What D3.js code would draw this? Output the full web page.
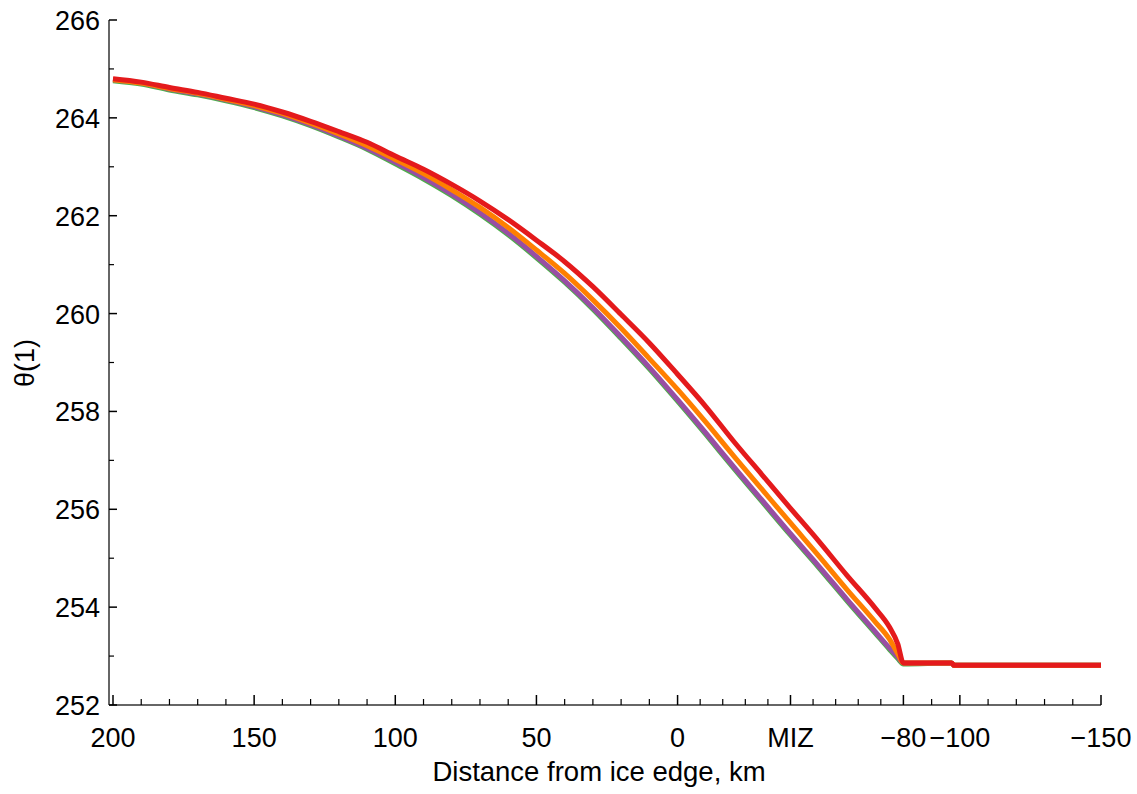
<!DOCTYPE html>
<html>
<head>
<meta charset="utf-8">
<script src="https://cdn.jsdelivr.net/npm/d3@7"></script>
<style>
  body { margin: 0; background: #fff; }
  svg { display: block; }
  text { font-family: "Liberation Sans", Arial, sans-serif; fill: #000; }
</style>
</head>
<body>
<div id="chart"></div>
<script>
// distance from ice edge, km (positive = open water side)
var distance = [200, 190, 180, 170, 160, 150, 140, 130, 120, 110, 100, 90, 80, 70, 60, 50, 40, 30, 20, 10, 0,
                -10, -20, -30, -40, -50, -60, -70, -75, -78, -80, -97, -98, -150];

var thetaRed    = [264.80, 264.73, 264.62, 264.52, 264.40, 264.28, 264.12, 263.93, 263.72, 263.50, 263.22, 262.95, 262.64, 262.30, 261.92, 261.50, 261.06, 260.55, 259.98, 259.40, 258.76,
                   258.10, 257.38, 256.70, 256.02, 255.35, 254.65, 253.98, 253.60, 253.25, 252.86, 252.86, 252.81, 252.81];
var thetaOrange = [264.78, 264.71, 264.60, 264.50, 264.38, 264.25, 264.09, 263.89, 263.67, 263.43, 263.15, 262.86, 262.53, 262.17, 261.76, 261.30, 260.82, 260.28, 259.70, 259.08, 258.45,
                   257.78, 257.08, 256.40, 255.72, 255.05, 254.36, 253.70, 253.35, 253.05, 252.86, 252.86, 252.81, 252.81];
var thetaPurple = [264.78, 264.71, 264.59, 264.49, 264.37, 264.23, 264.06, 263.86, 263.63, 263.38, 263.09, 262.78, 262.44, 262.06, 261.64, 261.17, 260.67, 260.12, 259.52, 258.90, 258.24,
                   257.56, 256.86, 256.18, 255.50, 254.84, 254.16, 253.50, 253.17, 252.98, 252.86, 252.86, 252.81, 252.81];
var thetaGreen  = [264.76, 264.69, 264.57, 264.47, 264.35, 264.21, 264.04, 263.84, 263.61, 263.36, 263.06, 262.75, 262.41, 262.03, 261.61, 261.14, 260.64, 260.09, 259.49, 258.87, 258.21,
                   257.53, 256.83, 256.15, 255.47, 254.81, 254.13, 253.47, 253.14, 252.95, 252.84, 252.86, 252.81, 252.81];

var xMajorTicks  = [200, 150, 100, 50, 0, -40, -80, -100, -150];
var xMajorLabels = ["200", "150", "100", "50", "0", "MIZ", "\u221280", "\u2212100", "\u2212150"];
var xMinorTicks  = [190, 180, 170, 160, 140, 130, 120, 110, 90, 80, 70, 60, 40, 30, 20, 10,
                    -8, -16, -24, -32, -48, -56, -64, -72, -90, -110, -120, -130, -140];
var yMajorTicks  = [252, 254, 256, 258, 260, 262, 264, 266];
var yMinorTicks  = [253, 255, 257, 259, 261, 263, 265];

var series = [
  {name: "green",  values: thetaGreen,  color: "#4DAF4A"},
  {name: "purple", values: thetaPurple, color: "#984EA3"},
  {name: "orange", values: thetaOrange, color: "#FF7F00"},
  {name: "red",    values: thetaRed,    color: "#E41A1C"}
];

var width = 1137, height = 794;
var svg = d3.select("#chart").append("svg").attr("width", width).attr("height", height);

var x = d3.scaleLinear().domain([200, -150]).range([113, 1101]);
var y = d3.scaleLinear().domain([252, 266]).range([705, 20]);
var axisX = 109;

var line = d3.line()
    .x(function(d){ return x(d[0]); })
    .y(function(d){ return y(d[1]); })
    .curve(d3.curveMonotoneX);

series.forEach(function(s){
    var pts = distance.map(function(dv, i){ return [dv, s.values[i]]; });
    svg.append("path")
        .datum(pts)
        .attr("d", line)
        .attr("fill", "none")
        .attr("stroke", s.color)
        .attr("stroke-width", 5)
        .attr("stroke-linejoin", "round");
});

// axes lines
svg.append("line").attr("x1", axisX).attr("x2", x(-150)).attr("y1", y(252)).attr("y2", y(252))
    .attr("stroke", "#333").attr("stroke-width", 1.5);
svg.append("line").attr("x1", axisX).attr("x2", axisX).attr("y1", y(252)).attr("y2", y(266))
    .attr("stroke", "#333").attr("stroke-width", 1.5);

// x ticks
svg.selectAll(".xmaj").data(xMajorTicks).enter().append("line")
    .attr("x1", function(d){ return x(d); }).attr("x2", function(d){ return x(d); })
    .attr("y1", y(252)).attr("y2", y(252) - 10)
    .attr("stroke", "#000").attr("stroke-width", 1.5);
svg.selectAll(".xmin").data(xMinorTicks).enter().append("line")
    .attr("x1", function(d){ return x(d); }).attr("x2", function(d){ return x(d); })
    .attr("y1", y(252)).attr("y2", y(252) - 6)
    .attr("stroke", "#000").attr("stroke-width", 1.2);
svg.selectAll(".xlab").data(xMajorTicks).enter().append("text")
    .attr("x", function(d){ return x(d); })
    .attr("y", 747)
    .attr("text-anchor", "middle")
    .style("font-size", "27px")
    .text(function(d, i){ return xMajorLabels[i]; });

// y ticks
svg.selectAll(".ymaj").data(yMajorTicks).enter().append("line")
    .attr("x1", axisX).attr("x2", axisX + 8)
    .attr("y1", function(d){ return y(d); }).attr("y2", function(d){ return y(d); })
    .attr("stroke", "#000").attr("stroke-width", 1.5);
svg.selectAll(".ymin").data(yMinorTicks).enter().append("line")
    .attr("x1", axisX).attr("x2", axisX + 5)
    .attr("y1", function(d){ return y(d); }).attr("y2", function(d){ return y(d); })
    .attr("stroke", "#000").attr("stroke-width", 1.2);
svg.selectAll(".ylab").data(yMajorTicks).enter().append("text")
    .attr("x", 100)
    .attr("y", function(d){ return y(d) + 10; })
    .attr("text-anchor", "end")
    .style("font-size", "27px")
    .text(function(d){ return d; });

// axis titles
svg.append("text")
    .attr("x", 599).attr("y", 781)
    .attr("text-anchor", "middle")
    .style("font-size", "27.5px")
    .text("Distance from ice edge, km");
svg.append("text")
    .attr("transform", "translate(34,363) rotate(-90)")
    .attr("text-anchor", "middle")
    .style("font-size", "27px")
    .text("\u03b8(1)");
</script>
</body>
</html>
